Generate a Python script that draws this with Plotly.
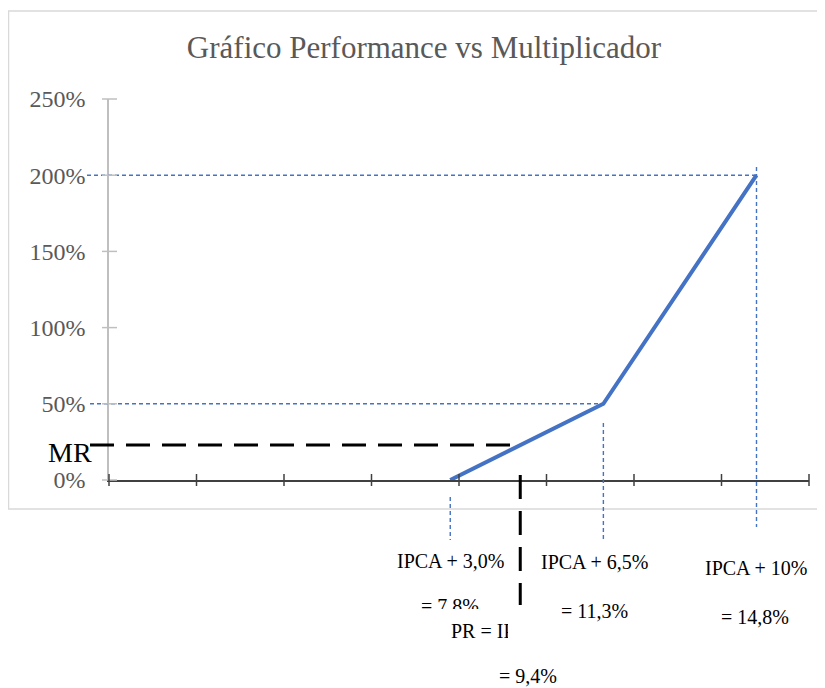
import plotly.graph_objects as go

# ---- data ----
performance = [7.8, 11.3, 14.8]          # % (IPCA + spread)
multiplier = [0, 50, 200]                # %
spread_labels = ["IPCA + 3,0%", "IPCA + 6,5%", "IPCA + 10%"]
value_labels = ["= 7,8%", "= 11,3%", "= 14,8%"]
pr_value = 9.4
mr_value = 22.9
pr_label = "PR = IPCA"
pr_value_label = "= 9,4%"
y_ticks = [0, 50, 100, 150, 200, 250]
y_tick_text = ["0%", "50%", "100%", "150%", "200%", "250%"]
x_ticks = [0, 2, 4, 6, 8, 10, 12, 14, 16]

X_RANGE = [0, 16]
Y_RANGE = [0, 250]

OFF = 8                      # page body margin
W, H = 817, 680
BLUE = "#4472C4"
GRAY_TXT = "#595959"
FONT = "Liberation Serif, Times New Roman, serif"


def px_x(p):
    return (p - OFF) / W


def px_y(p):
    return 1 - (p - OFF) / H


# main plot area (screen px): x 109..809, y 99..480
XD = [px_x(109), px_x(809)]
YD = [px_y(480), px_y(99)]


def dx(v):
    return XD[0] + (v - X_RANGE[0]) / (X_RANGE[1] - X_RANGE[0]) * (XD[1] - XD[0])


def dy(v):
    return YD[0] + (v - Y_RANGE[0]) / (Y_RANGE[1] - Y_RANGE[0]) * (YD[1] - YD[0])


fig = go.Figure()

fig.add_trace(go.Scatter(
    x=performance, y=multiplier, mode="lines",
    line=dict(color=BLUE, width=4), hoverinfo="skip", showlegend=False,
    xaxis="x", yaxis="y",
))

# clipped text boxes (as in the source document)
fig.add_trace(go.Scatter(
    x=[0.5], y=[0.1], text=[value_labels[0]], mode="text",
    textposition="middle center",
    textfont=dict(family=FONT, size=20, color="black"),
    cliponaxis=True, hoverinfo="skip", showlegend=False,
    xaxis="x2", yaxis="y2",
))
fig.add_trace(go.Scatter(
    x=[(451 - 440) / (508 - 440)], y=[0.5], text=[pr_label], mode="text",
    textposition="middle right",
    textfont=dict(family=FONT, size=20, color="black"),
    cliponaxis=True, hoverinfo="skip", showlegend=False,
    xaxis="x3", yaxis="y3",
))

shapes = []
# outer frame
shapes.append(dict(type="rect", xref="paper", yref="paper",
                   x0=px_x(8.5), x1=px_x(830), y0=px_y(509), y1=px_y(11),
                   line=dict(color="#D9D9D9", width=1.5), layer="below"))

bl = dict(color=BLUE, width=1.4, dash="4px,3px")
blk = dict(color="black", width=3, dash="24px,12px")

# blue dashed guides
shapes.append(dict(type="line", xref="paper", yref="paper",
                   x0=px_x(87), x1=dx(performance[2]), y0=dy(multiplier[2]), y1=dy(multiplier[2]), line=bl))
shapes.append(dict(type="line", xref="paper", yref="paper",
                   x0=px_x(90), x1=dx(performance[1]), y0=dy(multiplier[1]), y1=dy(multiplier[1]), line=bl))
shapes.append(dict(type="line", xref="paper", yref="paper",
                   x0=dx(performance[2]), x1=dx(performance[2]), y0=px_y(167), y1=px_y(527), line=bl))
shapes.append(dict(type="line", xref="paper", yref="paper",
                   x0=dx(performance[1]), x1=dx(performance[1]), y0=px_y(423), y1=px_y(542), line=bl))
shapes.append(dict(type="line", xref="paper", yref="paper",
                   x0=dx(performance[0]), x1=dx(performance[0]), y0=px_y(497), y1=px_y(540), line=bl))

# black dashed MR / PR guides
shapes.append(dict(type="line", xref="paper", yref="paper",
                   x0=px_x(90), x1=dx(pr_value), y0=dy(mr_value), y1=dy(mr_value), line=blk))
shapes.append(dict(type="line", xref="paper", yref="paper",
                   x0=dx(pr_value), x1=dx(pr_value), y0=px_y(475), y1=px_y(605), line=blk))

# y tick marks (crossing axis)
for v in y_ticks:
    shapes.append(dict(type="line", xref="paper", yref="paper",
                       x0=px_x(102), x1=px_x(117), y0=dy(v), y1=dy(v),
                       line=dict(color="#BFBFBF", width=1.5)))
# x tick marks (crossing axis)
for v in x_ticks:
    shapes.append(dict(type="line", xref="paper", yref="paper",
                       x0=dx(v), x1=dx(v), y0=px_y(486), y1=px_y(474),
                       line=dict(color="#404040", width=1.5)))

annotations = []
ann_font = dict(family=FONT, size=20, color="black")
label_pos = [(450, 561), (594, 562), (756, 568)]
for lab, (lx, ly) in zip(spread_labels, label_pos):
    annotations.append(dict(text=lab, xref="paper", yref="paper",
                            x=px_x(lx), y=px_y(ly),
                            showarrow=False, font=ann_font, xanchor="center", yanchor="middle"))
value_pos = [(594, 611), (755, 617)]
for lab, (lx, ly) in zip(value_labels[1:], value_pos):
    annotations.append(dict(text=lab, xref="paper", yref="paper",
                            x=px_x(lx), y=px_y(ly),
                            showarrow=False, font=ann_font, xanchor="center", yanchor="middle"))
annotations.append(dict(text=pr_value_label, xref="paper", yref="paper",
                        x=px_x(528), y=px_y(676), showarrow=False, font=ann_font,
                        xanchor="center", yanchor="middle"))
annotations.append(dict(text="MR", xref="paper", yref="paper",
                        x=px_x(94), y=px_y(452), showarrow=False,
                        font=dict(family=FONT, size=28, color="black"),
                        xanchor="right", yanchor="middle"))

hidden = dict(visible=False, range=[0, 1], fixedrange=True, showgrid=False,
              zeroline=False, automargin=False)

fig.update_layout(
    width=W, height=H,
    margin=dict(l=0, r=0, t=0, b=0, pad=0, autoexpand=False),
    paper_bgcolor="white", plot_bgcolor="rgba(0,0,0,0)",
    title=dict(text="Gráfico Performance vs Multiplicador",
               x=px_x(424), y=px_y(47), xanchor="center", yanchor="middle",
               xref="container", yref="container", automargin=False,
               font=dict(family=FONT, size=31, color=GRAY_TXT)),
    xaxis=dict(domain=XD, range=X_RANGE, showgrid=False, zeroline=False, showticklabels=False,
               ticks="", showline=True, linecolor="#404040", linewidth=1.5, fixedrange=True,
               anchor="y", automargin=False),
    yaxis=dict(domain=YD, range=Y_RANGE, showgrid=False, zeroline=False, tickvals=y_ticks,
               ticktext=y_tick_text, ticks="", showline=True, linecolor="#BFBFBF", linewidth=1.5,
               tickfont=dict(family=FONT, size=24, color=GRAY_TXT),
               ticklabelstandoff=17, fixedrange=True, anchor="x", automargin=False),
    xaxis2=dict(hidden, domain=[px_x(400), px_x(500)], anchor="y2"),
    yaxis2=dict(hidden, domain=[px_y(609), px_y(595)], anchor="x2"),
    xaxis3=dict(hidden, domain=[px_x(440), px_x(508)], anchor="y3"),
    yaxis3=dict(hidden, domain=[px_y(650), px_y(615)], anchor="x3"),
    shapes=shapes,
    annotations=annotations,
    showlegend=False,
)

fig.write_html("out.html")
